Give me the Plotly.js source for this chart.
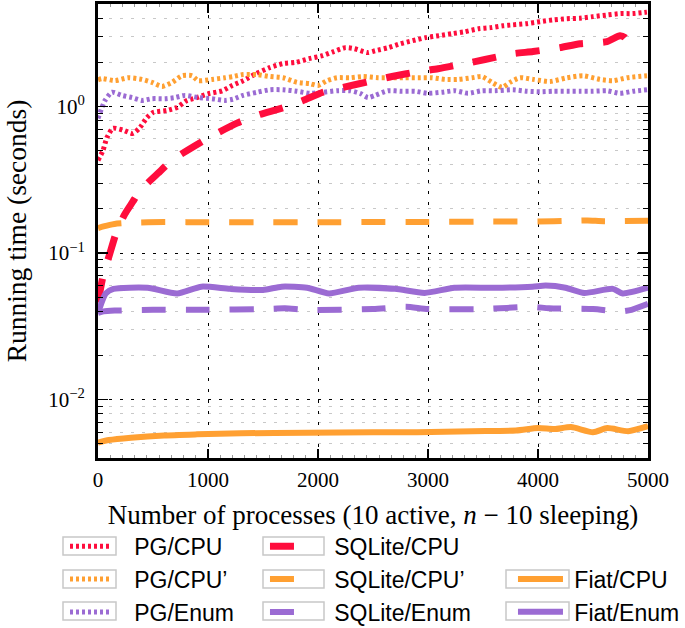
<!DOCTYPE html>
<html>
<head>
<meta charset="utf-8">
<script src="https://cdn.plot.ly/plotly-3.0.1.min.js"></script>
<style>html,body{margin:0;padding:0;background:#fff;}#chart{width:685px;height:628px;}</style>
</head>
<body>
<div id="chart"></div>
<script>
// ---- data ----
const xPGCPU = [0, 45, 82, 136, 227, 318, 382, 445, 500, 627, 718, 809, 900, 1000, 1130, 1220, 1320, 1440, 1560, 1680, 1800, 1920, 2040, 2130, 2250, 2330, 2450, 2520, 2640, 2750, 2860, 2980, 3100, 3220, 3330, 3460, 3570, 3680, 3770, 3890, 4020, 4140, 4260, 4380, 4500, 4620, 4750, 4860, 4990];
const yPGCPU = [0.43, 0.50, 0.615, 0.71, 0.69, 0.655, 0.72, 0.84, 0.91, 0.94, 0.985, 1.10, 1.15, 1.22, 1.28, 1.39, 1.50, 1.68, 1.84, 1.96, 2.00, 2.12, 2.22, 2.35, 2.52, 2.48, 2.33, 2.40, 2.52, 2.68, 2.81, 2.95, 3.04, 3.14, 3.23, 3.39, 3.45, 3.55, 3.60, 3.67, 3.79, 3.90, 3.97, 4.00, 4.10, 4.20, 4.30, 4.30, 4.40];

const xPGCPU2 = [0, 36, 155, 273, 400, 491, 582, 673, 764, 855, 909, 1036, 1155, 1227, 1318, 1445, 1564, 1682, 1809, 1927, 2000, 2082, 2173, 2291, 2409, 2545, 2673, 2791, 2909, 3036, 3155, 3273, 3400, 3491, 3582, 3673, 3745, 3836, 3955, 4109, 4264, 4409, 4564, 4682, 4809, 4991];
const yPGCPU2 = [1.52, 1.55, 1.50, 1.57, 1.53, 1.46, 1.37, 1.46, 1.62, 1.62, 1.50, 1.53, 1.57, 1.60, 1.65, 1.65, 1.60, 1.57, 1.46, 1.43, 1.39, 1.50, 1.57, 1.57, 1.60, 1.57, 1.57, 1.57, 1.57, 1.57, 1.53, 1.53, 1.57, 1.60, 1.46, 1.35, 1.46, 1.57, 1.53, 1.48, 1.57, 1.62, 1.53, 1.50, 1.57, 1.62];

const xPGEnum = [0, 64, 127, 218, 309, 400, 491, 609, 700, 791, 909, 1036, 1155, 1227, 1318, 1445, 1564, 1682, 1809, 1927, 2045, 2173, 2291, 2382, 2455, 2518, 2636, 2764, 2882, 3000, 3127, 3245, 3364, 3491, 3609, 3773, 3900, 4018, 4136, 4264, 4382, 4500, 4627, 4745, 4864, 4991];
const yPGEnum = [0.83, 1.10, 1.25, 1.19, 1.15, 1.10, 1.13, 1.13, 1.15, 1.19, 1.15, 1.13, 1.10, 1.12, 1.19, 1.25, 1.30, 1.30, 1.27, 1.23, 1.25, 1.28, 1.28, 1.23, 1.15, 1.19, 1.28, 1.27, 1.27, 1.23, 1.25, 1.28, 1.23, 1.28, 1.28, 1.30, 1.27, 1.26, 1.27, 1.27, 1.27, 1.27, 1.28, 1.23, 1.27, 1.30];

const xSQLCPU = [0, 45, 109, 173, 245, 318, 364, 450, 545, 673, 882, 1045, 1264, 1445, 1682, 1864, 2045, 2227, 2500, 2673, 2909, 3091, 3336, 3518, 3773, 3955, 4200, 4382, 4627, 4745, 4790, 4810];
const ySQLCPU = [0.046, 0.069, 0.10, 0.143, 0.185, 0.225, 0.256, 0.30, 0.35, 0.43, 0.54, 0.635, 0.77, 0.87, 0.98, 1.10, 1.25, 1.35, 1.50, 1.60, 1.73, 1.81, 1.96, 2.09, 2.29, 2.37, 2.52, 2.68, 2.77, 3.04, 2.95, 2.80];

const xSQLCPU2 = [0, 50, 150, 300, 600, 1000, 1500, 2000, 2500, 3000, 3500, 4000, 4300, 4450, 4600, 5000];
const ySQLCPU2 = [0.148, 0.152, 0.158, 0.161, 0.163, 0.162, 0.162, 0.162, 0.163, 0.163, 0.164, 0.164, 0.166, 0.167, 0.165, 0.166];

const xSQLEnum = [0, 50, 150, 500, 1000, 1500, 1700, 1900, 2500, 2800, 3000, 3500, 3950, 4100, 4500, 4750, 4850, 5000];
const ySQLEnum = [0.039, 0.040, 0.0405, 0.041, 0.041, 0.0415, 0.042, 0.041, 0.0415, 0.043, 0.0415, 0.0415, 0.043, 0.042, 0.0415, 0.040, 0.041, 0.045];

const xFiatCPU = [0, 100, 300, 600, 900, 1300, 1900, 2500, 2900, 3400, 3800, 4000, 4150, 4300, 4500, 4630, 4820, 5000];
const yFiatCPU = [0.0051, 0.0053, 0.0055, 0.0057, 0.0058, 0.0059, 0.00595, 0.0060, 0.0060, 0.0061, 0.00615, 0.0064, 0.0063, 0.0065, 0.0060, 0.0064, 0.0061, 0.0066];

const xFiatEnum = [0, 70, 140, 450, 720, 940, 1200, 1500, 1670, 1900, 2100, 2370, 2700, 2970, 3240, 3600, 3950, 4070, 4250, 4420, 4680, 4770, 5000];
const yFiatEnum = [0.039, 0.053, 0.057, 0.058, 0.053, 0.059, 0.057, 0.056, 0.059, 0.058, 0.053, 0.058, 0.057, 0.0535, 0.058, 0.058, 0.059, 0.060, 0.058, 0.0535, 0.057, 0.053, 0.058];

const seriesNames = ['PG/CPU', 'PG/CPU\u2019', 'PG/Enum', 'SQLite/CPU', 'SQLite/CPU\u2019', 'SQLite/Enum', 'Fiat/CPU', 'Fiat/Enum'];

const xTickVals = [0, 1000, 2000, 3000, 4000, 5000];
const xTickText = ['0', '1000', '2000', '3000', '4000', '5000'];
const yTickVals = [0.01, 0.1, 1];
const yTickText = ['10<sup>\u22122</sup>', '10<sup>\u22121</sup>', '10<sup>0</sup>'];

// ---- styles ----
const RED = '#ff0d3d', ORANGE = '#ffa032', PURPLE = '#9b6bd3';
const DOT = '3px,3px', DASH = '24px,20px';
const pad3 = '\u00a0\u00a0\u00a0', pad1 = '\u00a0';

function tr(x, y, name, color, dash, width, legend) {
  return {x: x, y: y, name: name, type: 'scatter', mode: 'lines', legend: legend,
    line: {color: color, dash: dash, width: width, shape: 'spline', smoothing: 0.6}};
}
const traces = [
  tr(xPGCPU, yPGCPU, pad3 + seriesNames[0], RED, DOT, 5, 'legend'),
  tr(xPGCPU2, yPGCPU2, pad3 + seriesNames[1], ORANGE, DOT, 5, 'legend'),
  tr(xPGEnum, yPGEnum, pad3 + seriesNames[2], PURPLE, DOT, 5, 'legend'),
  tr(xSQLCPU, ySQLCPU, pad3 + seriesNames[3], RED, DASH, 7, 'legend2'),
  tr(xSQLCPU2, ySQLCPU2, pad3 + seriesNames[4], ORANGE, DASH, 6, 'legend2'),
  tr(xSQLEnum, ySQLEnum, pad3 + seriesNames[5], PURPLE, DASH, 6, 'legend2'),
  tr(xFiatCPU, yFiatCPU, pad1 + seriesNames[6], ORANGE, 'solid', 6, 'legend3'),
  tr(xFiatEnum, yFiatEnum, pad1 + seriesNames[7], PURPLE, 'solid', 6, 'legend3')
];

// minor y ticks at 2..9 of each decade
const yMinor = [];
[0.001, 0.01, 0.1, 1].forEach(function (d) { for (let k = 2; k <= 9; k++) yMinor.push(d * k); });

const legFont = {family: 'Liberation Sans, Arial, sans-serif', size: 23, color: '#000'};
function leg(x, y, w) {
  return {x: x, y: y, xanchor: 'left', yanchor: 'top', orientation: 'v', font: legFont,
    bgcolor: 'rgba(0,0,0,0)', borderwidth: 0, itemwidth: w, tracegroupgap: 0, traceorder: 'normal'};
}
function box(px0, px1, pyc) {
  return {type: 'rect', xref: 'paper', yref: 'paper',
    x0: (px0 - 98) / 550, x1: (px1 - 98) / 550,
    y0: (458 - (pyc - 9)) / 454, y1: (458 - (pyc + 9)) / 454,
    line: {color: '#c8c8c8', width: 1.5}, fillcolor: 'rgba(0,0,0,0)'};
}
const shapes = [
  box(63, 116, 546), box(63, 116, 579), box(63, 116, 611),
  box(263, 324, 546), box(263, 324, 579), box(263, 324, 611),
  box(506, 569, 579), box(506, 569, 611)
];

const serif = 'Liberation Serif, Times New Roman, serif';
const layout = {
  width: 685, height: 628,
  margin: {l: 98, r: 37, t: 4, b: 170, autoexpand: false},
  paper_bgcolor: '#fff', plot_bgcolor: '#fff',
  showlegend: true,
  font: {family: serif, color: '#000'},
  xaxis: {
    range: [0, 5000], tickmode: 'array', tickvals: xTickVals, ticktext: xTickText,
    ticks: 'inside', ticklen: 9, tickwidth: 1.5, tickcolor: '#000',
    showline: true, linewidth: 3, linecolor: '#000', mirror: 'all',
    showgrid: true, gridcolor: '#000', gridwidth: 1, griddash: '3px,8px', zeroline: false,
    tickfont: {family: serif, size: 21, color: '#000'}, ticklabelstandoff: 1, automargin: false,
    minor: {dtick: 1000 / 9, ticks: 'inside', ticklen: 3, tickcolor: '#999', tickwidth: 1, showgrid: false},
    title: {text: 'Number of processes (10 active, <i>n</i> \u2212 10 sleeping)', font: {family: serif, size: 27, color: '#000'}, standoff: 14}
  },
  yaxis: {
    type: 'log', range: [Math.log10(0.004), Math.log10(5)],
    tickmode: 'array', tickvals: yTickVals, ticktext: yTickText,
    ticks: 'inside', ticklen: 10, tickwidth: 1.5, tickcolor: '#000',
    showline: true, linewidth: 3, linecolor: '#000', mirror: 'all',
    showgrid: true, gridcolor: '#000', gridwidth: 1, griddash: '3px,8px', zeroline: false,
    tickfont: {family: serif, size: 21, color: '#000'}, ticklabelstandoff: 6, automargin: false,
    minor: {tickmode: 'array', tickvals: yMinor, ticks: 'inside', ticklen: 5, tickcolor: '#000', tickwidth: 1,
      showgrid: true, gridcolor: '#c8c8c8', gridwidth: 1, griddash: '3px,8px'},
    title: {text: 'Running time (seconds)', font: {family: serif, size: 27.5, color: '#000'}, standoff: 14}
  },
  legend: leg(-0.06, -0.147, 40),
  legend2: leg(0.3036, -0.147, 40),
  legend3: leg(0.7545, -0.219, 45),
  shapes: shapes
};

Plotly.newPlot('chart', traces, layout, {displayModeBar: false, staticPlot: true});
</script>
</body>
</html>
